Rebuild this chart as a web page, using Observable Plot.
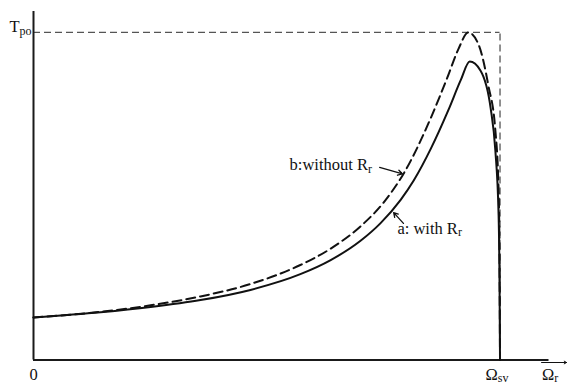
<!DOCTYPE html>
<html>
<head>
<meta charset="utf-8">
<script src="https://cdn.jsdelivr.net/npm/d3@7"></script>
<script src="https://cdn.jsdelivr.net/npm/@observablehq/plot@0.6"></script>
<style>
  html, body { margin: 0; padding: 0; background: #fff; }
  svg text { font-family: "Liberation Serif", "Times New Roman", serif; }
</style>
</head>
<body>
<div id="chart"></div>
<script>
// speed as fraction of Ω_sv, torque as fraction of T_po
const speedA  = [0, 0.144, 0.251, 0.358, 0.465, 0.572, 0.637, 0.701, 0.744, 0.787, 0.815, 0.852, 0.889, 0.916, 0.935, 0.958, 0.980, 0.990, 0.997, 0.999, 1];
const torqueA = [0.130, 0.146, 0.162, 0.183, 0.214, 0.262, 0.305, 0.364, 0.418, 0.489, 0.548, 0.646, 0.762, 0.855, 0.911, 0.884, 0.768, 0.640, 0.441, 0.227, 0];
const speedB  = [0, 0.144, 0.251, 0.358, 0.465, 0.572, 0.637, 0.701, 0.750, 0.797, 0.851, 0.887, 0.911, 0.932, 0.954, 0.975, 0.990, 0.997, 0.999, 1];
const torqueB = [0.130, 0.147, 0.167, 0.194, 0.232, 0.290, 0.340, 0.408, 0.480, 0.578, 0.737, 0.862, 0.950, 1.0, 0.963, 0.838, 0.701, 0.517, 0.304, 0];

const xMax = 1.105, yMax = 1.064;
const axisLabels = [
  {x: 0, y: 1, text: "T_po"},
  {x: 0, y: 0, text: "0"},
  {x: 1, y: 0, text: "Ω_sv"},
  {x: xMax, y: 0, text: "Ω_r"}
];
const curveLabels = [
  {x: 0.549, y: 0.579, text: "b:without R_r"},
  {x: 0.780, y: 0.386, text: "a: with R_r"}
];
const labelArrows = [
  {x1: 0.742, y1: 0.588, x2: 0.791, y2: 0.568},
  {x1: 0.793, y1: 0.417, x2: 0.772, y2: 0.450}
];
const axisArrow = [{x1: xMax - 0.016, x2: 1.1426, y: 0}];

const curveA = speedA.map((s, i) => ({s, t: torqueA[i]}));
const curveB = speedB.map((s, i) => ({s, t: torqueB[i]}));
const font = "Liberation Serif";
const fs = 16.5;

const plot = Plot.plot({
  width: 567,
  height: 386,
  marginLeft: 33,
  marginRight: 18.5,
  marginTop: 11,
  marginBottom: 26.5,
  x: {domain: [0, xMax], axis: null},
  y: {domain: [0, yMax], axis: null},
  style: {fontFamily: font, fontSize: fs + "px", background: "#fff", overflow: "visible"},
  marks: [
    Plot.ruleY([1], {x1: 0, x2: 1, stroke: "#555", strokeWidth: 1.3, strokeDasharray: "7,4"}),
    Plot.ruleX([1], {y1: 0, y2: 1, stroke: "#555", strokeWidth: 1.3, strokeDasharray: "7,4"}),
    Plot.ruleX([0], {y1: 0, y2: yMax, stroke: "#1a1a1a", strokeWidth: 2}),
    Plot.ruleY([0], {x1: 0, x2: xMax, stroke: "#1a1a1a", strokeWidth: 2}),
    Plot.line(curveB, {x: "s", y: "t", curve: "monotone-x", stroke: "#111", strokeWidth: 2, strokeDasharray: "9,5"}),
    Plot.line(curveA, {x: "s", y: "t", curve: "monotone-x", stroke: "#111", strokeWidth: 2}),
    Plot.arrow(labelArrows, {x1: "x1", y1: "y1", x2: "x2", y2: "y2", stroke: "#111", strokeWidth: 1.3, headLength: 6, bend: 0}),
    Plot.arrow(axisArrow, {x1: "x1", x2: "x2", y1: "y", y2: "y", dy: 2.5, stroke: "#111", strokeWidth: 1, headLength: 4}),
    Plot.text(curveLabels, {x: "x", y: "y", text: "text", textAnchor: "start", lineAnchor: "bottom", fill: "#111", fontFamily: font, fontSize: fs}),
    Plot.text(axisLabels, {filter: d => d.text === "T_po", x: "x", y: "y", text: "text", textAnchor: "end", lineAnchor: "bottom", fill: "#111", dx: -2, fontFamily: font, fontSize: fs}),
    Plot.text(axisLabels, {filter: d => d.text === "0", x: "x", y: "y", text: "text", textAnchor: "middle", lineAnchor: "bottom", fill: "#111", dy: 19.5, fontFamily: font, fontSize: fs}),
    Plot.text(axisLabels, {filter: d => d.text === "Ω_sv", x: "x", y: "y", text: "text", textAnchor: "middle", lineAnchor: "bottom", fill: "#111", dx: -3, dy: 19.5, fontFamily: font, fontSize: fs}),
    Plot.text(axisLabels, {filter: d => d.text === "Ω_r", x: "x", y: "y", text: "text", textAnchor: "start", lineAnchor: "bottom", fill: "#111", dx: -7, dy: 19.5, fontFamily: font, fontSize: fs})
  ]
});

// turn "X_sub" into X with a subscript tspan
(function subscriptify(svg) {
  const ns = "http://www.w3.org/2000/svg";
  const walker = document.createTreeWalker(svg, NodeFilter.SHOW_TEXT);
  const nodes = [];
  while (walker.nextNode()) nodes.push(walker.currentNode);
  for (const n of nodes) {
    const s = n.nodeValue;
    const i = s.indexOf("_");
    if (i < 0) continue;
    const parent = n.parentNode;
    const main = document.createTextNode(s.slice(0, i));
    const ts = document.createElementNS(ns, "tspan");
    ts.setAttribute("dy", "2.5");
    ts.setAttribute("font-size", "12");
    ts.textContent = s.slice(i + 1);
    parent.replaceChild(main, n);
    parent.insertBefore(ts, main.nextSibling);
  }
})(plot);

document.getElementById("chart").appendChild(plot);
</script>
</body>
</html>
